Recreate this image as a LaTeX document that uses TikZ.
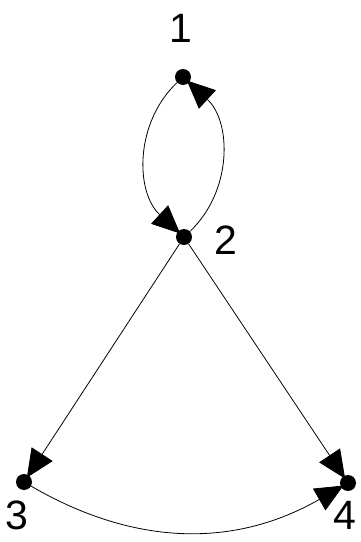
\documentclass[tikz,border=0pt]{standalone}
\usepackage{fontspec}
\setmainfont{Liberation Sans}
\usetikzlibrary{arrows.meta}
\begin{document}
\begin{tikzpicture}[x=1pt,y=1pt,
  dot/.style={circle,fill=black,inner sep=0pt,minimum size=16pt},
  lbl/.style={font=\fontsize{41}{46}\selectfont,inner sep=0pt},
  edge/.style={line width=0.8pt,shorten >=-3pt,-{Triangle[length=28pt,width=25pt]}}]
\useasboundingbox (0,0) rectangle (361,542);
\node[dot] (n1) at (183,465) {};
\node[dot] (n2) at (184,305) {};
\node[dot] (n3) at (24,60) {};
\node[dot] (n4) at (348,59) {};
\node[lbl] (l1) at (181,514) {1};
\node[lbl] (l2) at (226,302) {2};
\node[lbl] (l3) at (17,27) {3};
\node[lbl] (l4) at (345,27) {4};
\draw[edge] (n2) to[bend right=47] (n1);
\draw[edge] (n1) to[bend right=47] (n2);
\draw[edge] (n2) -- (n3);
\draw[edge] (n2) -- (n4);
\draw[edge] (n3) to[bend right=30] (n4);
\end{tikzpicture}
\end{document}
